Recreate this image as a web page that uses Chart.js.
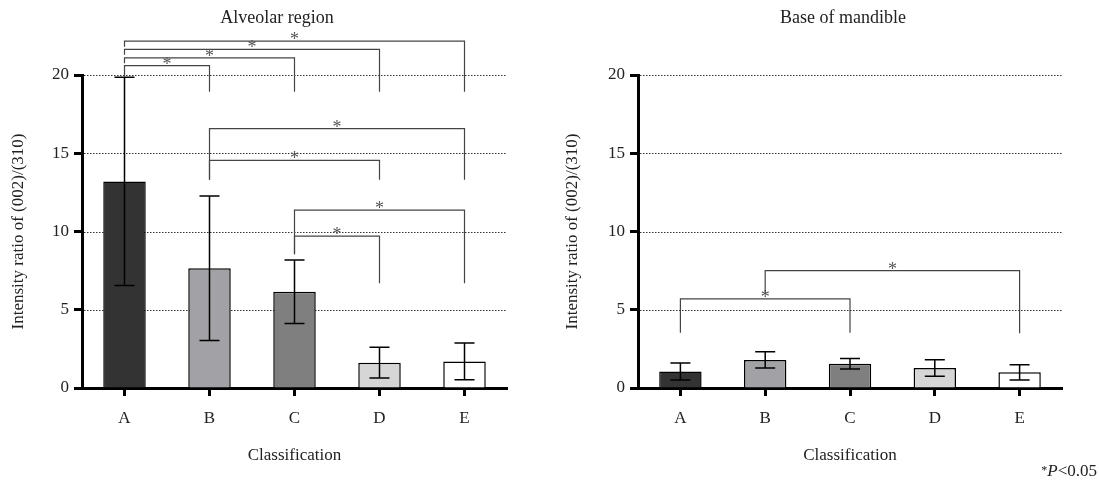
<!DOCTYPE html>
<html>
<head>
<meta charset="utf-8">
<script src="https://cdn.jsdelivr.net/npm/chart.js@4.4.1/dist/chart.umd.min.js"></script>
<style>
    html, body { margin: 0; padding: 0; background: #fff; overflow: hidden; }
    #wrap { position: relative; width: 1099px; height: 482px; overflow: hidden; }
    #leftBox { position: absolute; left: 0; top: 0; width: 554px; height: 482px; }
    #rightBox { position: absolute; left: 560px; top: 0; width: 539px; height: 482px; }
    #note { position: absolute; right: 2px; top: 459px; font: 17px 'Liberation Serif', serif; color: #222; line-height: 22px; }
    #note sup { font-size: 12px; vertical-align: 2px; }
</style>
</head>
<body>
<div id="wrap">
    <div id="leftBox"><canvas id="alveolarChart" width="554" height="482"></canvas></div>
    <div id="rightBox"><canvas id="mandibleChart" width="539" height="482"></canvas></div>
    <div id="note"><sup>*</sup><i>P</i>&lt;0.05</div>
</div>
<script>
// Data
const categories = ['A', 'B', 'C', 'D', 'E'];
const barColors = ['#333333', '#a2a2a6', '#7f7f7f', '#d6d6d6', '#ffffff'];

const alveolarMeans = [13.2, 7.65, 6.15, 1.62, 1.7];
const alveolarSD = [6.65, 4.62, 2.03, 0.98, 1.18];

const mandibleMeans = [1.05, 1.79, 1.55, 1.28, 1.0];
const mandibleSD = [0.54, 0.52, 0.34, 0.53, 0.49];

// significance brackets: [from, to], line level, [left leg end, right leg end]
const alveolarPairs = [[0, 4], [0, 3], [0, 2], [0, 1], [1, 4], [1, 3], [2, 4], [2, 3]];
const alveolarLevels = [22.17, 21.64, 21.1, 20.6, 16.57, 14.54, 11.37, 9.71];
const alveolarLegEnds = [[21.8, 18.93], [21.3, 18.93], [20.75, 18.93], [19.9, 18.93],
                         [13.3, 13.3], [13.3, 13.3], [8.54, 6.69], [8.54, 6.69]];

const mandiblePairs = [[0, 2], [1, 4]];
const mandibleLevels = [5.69, 7.5];
const mandibleLegEnds = [[3.53, 3.53], [6.05, 3.5]];

const FONT = "'Liberation Serif', 'Times New Roman', serif";

function makePlugin(titleText, titleX, sds, pairs, levels, legEnds) {
    return {
        id: 'extras',
        beforeDatasetsDraw(chart) {
            // dotted grid lines
            const ctx = chart.ctx;
            const y = chart.scales.y;
            const area = chart.chartArea;
            ctx.save();
            ctx.strokeStyle = '#333';
            ctx.lineWidth = 1;
            ctx.setLineDash([1.5, 1.5]);
            y.ticks.forEach(t => {
                if (t.value <= 0) return;
                const py = Math.round(y.getPixelForValue(t.value)) + 0.5;
                ctx.beginPath();
                ctx.moveTo(area.left + 2, py);
                ctx.lineTo(area.right, py);
                ctx.stroke();
            });
            ctx.restore();
        },
        afterDatasetsDraw(chart) {
            // error bars
            const ctx = chart.ctx;
            const y = chart.scales.y;
            const meta = chart.getDatasetMeta(0);
            const values = chart.data.datasets[0].data;
            ctx.save();
            ctx.strokeStyle = '#000';
            ctx.lineWidth = 1.5;
            meta.data.forEach((bar, i) => {
                const top = y.getPixelForValue(values[i] + sds[i]);
                const bot = y.getPixelForValue(values[i] - sds[i]);
                ctx.beginPath();
                ctx.moveTo(bar.x, top);
                ctx.lineTo(bar.x, bot);
                ctx.moveTo(bar.x - 10, top);
                ctx.lineTo(bar.x + 10, top);
                ctx.moveTo(bar.x - 10, bot);
                ctx.lineTo(bar.x + 10, bot);
                ctx.stroke();
            });
            ctx.restore();
        },
        afterDraw(chart) {
            const ctx = chart.ctx;
            const y = chart.scales.y;
            const meta = chart.getDatasetMeta(0);
            ctx.save();
            // panel title
            ctx.fillStyle = '#222';
            ctx.font = '18px ' + FONT;
            ctx.textAlign = 'center';
            ctx.textBaseline = 'middle';
            ctx.fillText(titleText, titleX, 18);
            // brackets with asterisks
            ctx.strokeStyle = '#444';
            ctx.lineWidth = 1.2;
            ctx.fillStyle = '#555';
            ctx.font = '18px ' + FONT;
            ctx.textBaseline = 'alphabetic';
            pairs.forEach((p, i) => {
                const x1 = meta.data[p[0]].x;
                const x2 = meta.data[p[1]].x;
                const ly = y.getPixelForValue(levels[i]);
                ctx.beginPath();
                ctx.moveTo(x1, y.getPixelForValue(legEnds[i][0]));
                ctx.lineTo(x1, ly);
                ctx.lineTo(x2, ly);
                ctx.lineTo(x2, y.getPixelForValue(legEnds[i][1]));
                ctx.stroke();
                ctx.fillText('*', (x1 + x2) / 2, ly + 4);
            });
            ctx.restore();
        }
    };
}

function makeChart(canvasId, titleText, means, sds, pairs, levels, legEnds, geom) {
    const ctx = document.getElementById(canvasId).getContext('2d');
    return new Chart(ctx, {
        type: 'bar',
        data: {
            labels: categories,
            datasets: [{
                data: means,
                backgroundColor: barColors,
                borderColor: '#000',
                borderWidth: 1.5,
                barPercentage: 0.5,
                categoryPercentage: 1.0
            }]
        },
        options: {
            responsive: false,
            animation: false,
            layout: { padding: { left: 0, right: geom.padRight, top: 75, bottom: 0 } },
            plugins: {
                legend: { display: false },
                tooltip: { enabled: false },
                title: { display: false }
            },
            scales: {
                x: {
                    afterFit: s => { s.height = 94; },
                    grid: { offset: false, drawOnChartArea: false, drawTicks: true, tickLength: 8, tickWidth: 3, tickColor: '#000' },
                    border: { color: '#000', width: 3 },
                    ticks: { color: '#222', font: { family: FONT, size: 17 }, padding: 12 },
                    title: {
                        display: true,
                        text: 'Classification',
                        color: '#222',
                        font: { family: FONT, size: 17 },
                        padding: { top: 0, bottom: 16 }
                    }
                },
                y: {
                    min: 0,
                    max: 20,
                    afterFit: s => { s.width = geom.yWidth; },
                    grid: { drawOnChartArea: false, drawTicks: true, tickLength: 8, tickWidth: 3, tickColor: '#000' },
                    border: { color: '#000', width: 3 },
                    ticks: { stepSize: 5, color: '#222', font: { family: FONT, size: 17 }, padding: 5 },
                    title: {
                        display: true,
                        text: 'Intensity ratio of (002)/(310)',
                        color: '#222',
                        font: { family: FONT, size: 17 },
                        padding: { top: geom.yTitlePad, bottom: 0 }
                    }
                }
            }
        },
        plugins: [makePlugin(titleText, geom.titleX, sds, pairs, levels, legEnds)]
    });
}

makeChart('alveolarChart', 'Alveolar region', alveolarMeans, alveolarSD,
    alveolarPairs, alveolarLevels, alveolarLegEnds, { yWidth: 82, padRight: 47, yTitlePad: 8, titleX: 277 });
makeChart('mandibleChart', 'Base of mandible', mandibleMeans, mandibleSD,
    mandiblePairs, mandibleLevels, mandibleLegEnds, { yWidth: 78, padRight: 37, yTitlePad: 2, titleX: 283 });
</script>
</body>
</html>
